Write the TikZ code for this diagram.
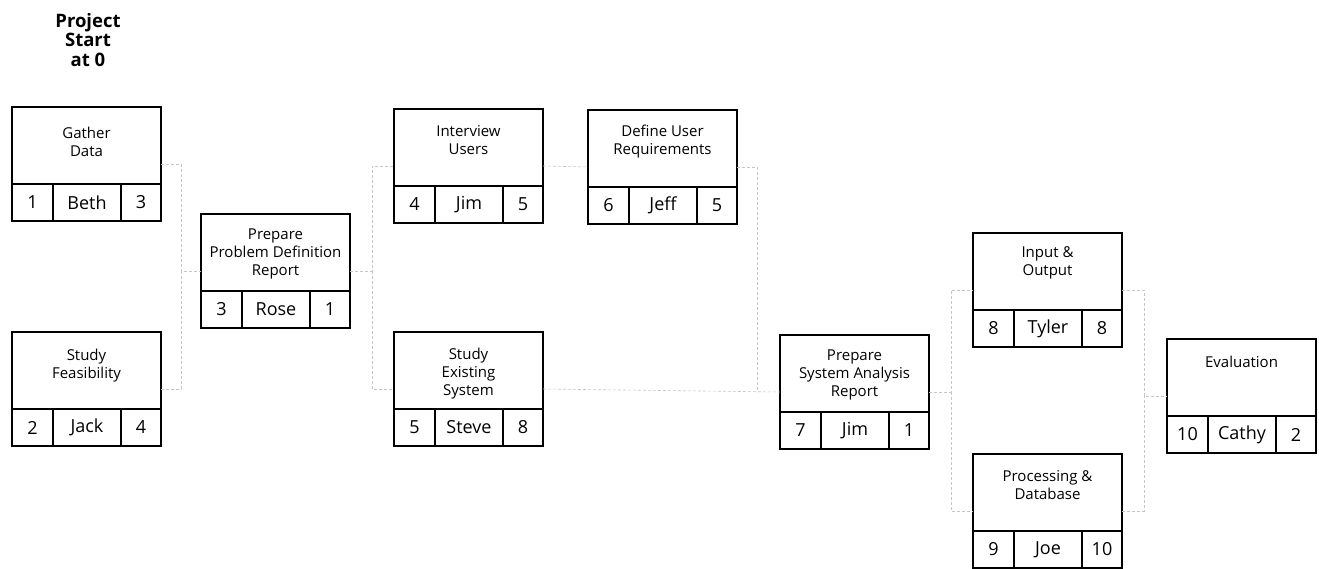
\documentclass[tikz,border=0pt]{standalone}
\usepackage{fontspec}
\setmainfont{Open Sans}
\begin{document}
\begin{tikzpicture}[x=1pt,y=-1pt,
  tbox/.style={draw, line width=1.6pt, minimum width=149pt, minimum height=114pt, inner sep=0pt, outer sep=0pt},
  ttl/.style={align=center, font=\fontsize{15}{18}\selectfont, inner sep=0pt},
  cell/.style={draw, line width=1.3pt, minimum height=37pt, inner sep=0pt, outer sep=0pt, font=\fontsize{18}{20}\selectfont},
  conn/.style={draw=gray!45, densely dashed, line width=0.6pt},
  start/.style={align=center, font=\bfseries\fontsize{18.5}{19.5}\selectfont, inner sep=0pt}]
\useasboundingbox (0,0) rectangle (1319,569);
\newcommand\taskbox[8][16]{%
  \node[tbox, anchor=north west] (#2) at (#3,#4) {};
  \node[ttl, anchor=north] (#2-t) at ([yshift=-#1pt]#2.north) {#5};
  \node[cell, anchor=south west, minimum width=41pt] (#2-a) at (#2.south west) {#6};
  \node[cell, anchor=south west, minimum width=68pt] (#2-p) at (#2-a.south east) {#7};
  \node[cell, anchor=south west, minimum width=40pt] (#2-b) at (#2-p.south east) {#8};
}
\node[start, anchor=north] (ps) at (88,13) {Project\\Start\\at 0};
\taskbox[20]{gd}{12}{107}{Gather\\Data}{1}{Beth}{3}
\taskbox[17]{sf}{12}{332}{Study\\Feasibility}{2}{Jack}{4}
\taskbox[15]{pp}{201}{214}{Prepare\\Problem Definition\\Report}{3}{Rose}{1}
\taskbox{iu}{394}{109}{Interview\\Users}{4}{Jim}{5}
\taskbox{se}{394}{332}{Study\\Existing\\System}{5}{Steve}{8}
\taskbox[15]{du}{588}{110}{Define User\\Requirements}{6}{Jeff}{5}
\taskbox[15]{sa}{780}{335}{Prepare\\System Analysis\\Report}{7}{Jim}{1}
\taskbox[13]{io}{973}{233}{Input \&\\Output}{8}{Tyler}{8}
\taskbox[16]{pd}{973}{454}{Processing \&\\Database}{9}{Joe}{10}
\taskbox[17]{ev}{1167}{339}{Evaluation}{10}{Cathy}{2}
% connectors
\coordinate (j1) at (181,0);
\coordinate (j2) at (372,0);
\coordinate (j3) at (757,0);
\coordinate (j4) at (951,0);
\coordinate (j5) at (1144,0);
\draw[conn] (gd.east) -- (gd.east -| j1) -- (pp.west -| j1) -- (pp.west);
\draw[conn] (sf.east) -- (sf.east -| j1) -- (pp.west -| j1);
\draw[conn] (pp.east) -- (pp.east -| j2) -- (iu.west -| j2) -- (iu.west);
\draw[conn] (pp.east -| j2) -- (se.west -| j2) -- (se.west);
\draw[conn] (iu.east) -- (du.west);
\draw[conn] (du.east) -- (du.east -| j3) -- (sa.west -| j3);
\draw[conn] (se.east) -- (sa.west);
\draw[conn] (sa.east) -- (sa.east -| j4) -- (io.west -| j4) -- (io.west);
\draw[conn] (sa.east -| j4) -- (pd.west -| j4) -- (pd.west);
\draw[conn] (io.east) -- (io.east -| j5) -- (ev.west -| j5) -- (ev.west);
\draw[conn] (pd.east) -- (pd.east -| j5) -- (ev.west -| j5);
\end{tikzpicture}
\end{document}
